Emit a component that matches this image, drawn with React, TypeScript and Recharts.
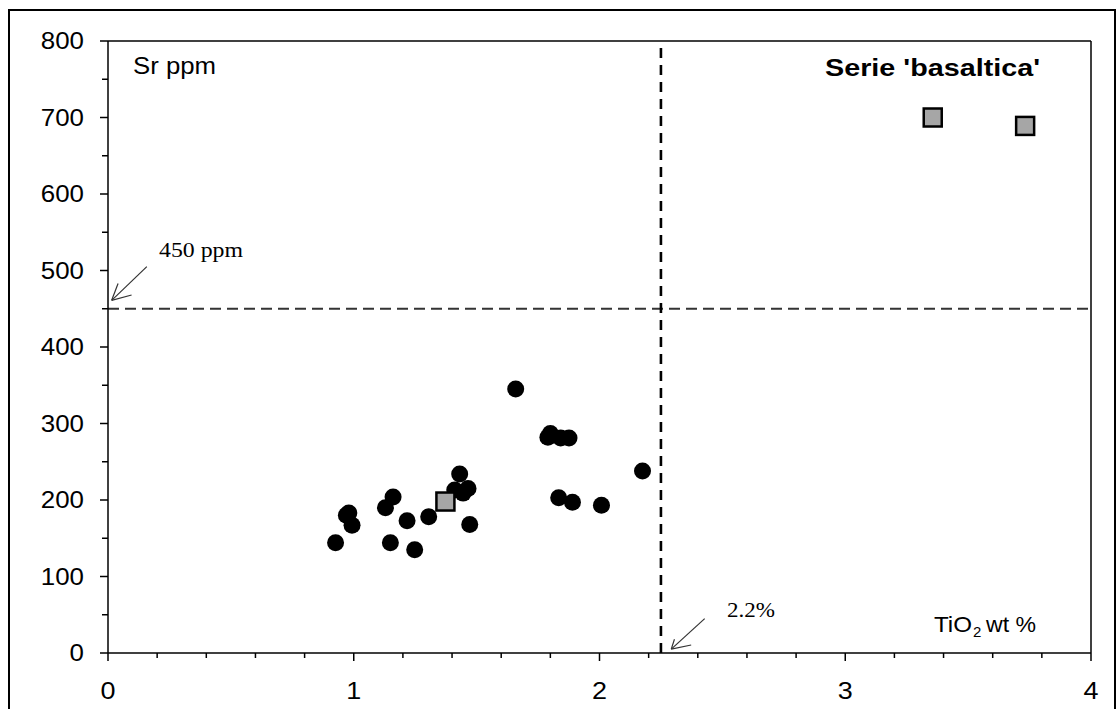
import React from 'react';
import { ScatterChart, Scatter, XAxis, YAxis, ReferenceLine } from 'recharts';

// TiO2 wt % vs Sr ppm
const circleX = [1.659, 1.79, 1.8, 1.842, 1.876, 2.175, 1.834, 1.89, 2.008, 1.431, 1.411, 1.465, 1.445, 1.472, 1.305, 1.217, 1.16, 1.129, 1.149, 1.248, 0.97, 0.98, 0.993, 0.926];
const circleY = [345, 282, 287, 281, 281, 238, 203, 197, 193, 234, 213, 215, 209, 168, 178, 173, 204, 190, 144, 135, 180, 183, 167, 144];
const squareX = [1.373, 3.356, 3.732];
const squareY = [198, 700, 689];

const xTicks = [0, 0.2, 0.4, 0.6, 0.8, 1, 1.2, 1.4, 1.6, 1.8, 2, 2.2, 2.4, 2.6, 2.8, 3, 3.2, 3.4, 3.6, 3.8, 4];
const xMajor = [0, 1, 2, 3, 4];
const yTicks = [0, 50, 100, 150, 200, 250, 300, 350, 400, 450, 500, 550, 600, 650, 700, 750, 800];
const yMajor = [0, 100, 200, 300, 400, 500, 600, 700, 800];

const tioLimit = 2.25;
const srLimit = 450;

// annotation arrows (data coordinates)
const arrow450 = [
  [{ x: 0.158, y: 505 }, { x: 0.015, y: 461 }],
  [{ x: 0.015, y: 461 }, { x: 0.041, y: 483 }],
  [{ x: 0.015, y: 461 }, { x: 0.096, y: 468 }],
];
const arrow22 = [
  [{ x: 2.428, y: 45 }, { x: 2.292, y: 5 }],
  [{ x: 2.292, y: 5 }, { x: 2.305, y: 18 }],
  [{ x: 2.292, y: 5 }, { x: 2.373, y: 10.5 }],
];

const circles = circleX.map((x, i) => ({ x, y: circleY[i] }));
const squares = squareX.map((x, i) => ({ x, y: squareY[i] }));

const SANS = 'Liberation Sans, Arial, sans-serif';
const SERIF = 'Liberation Serif, Times New Roman, serif';

const XTick = (props: any) => {
  const { x, y, payload } = props;
  const v = payload.value;
  const major = xMajor.includes(v);
  return (
    <g>
      <line x1={x} y1={y} x2={x} y2={y + (major ? 8 : 5)} stroke="#000" strokeWidth={1.5} />
      {major && (
        <text x={x} y={y + 46} textAnchor="middle" fontSize={24} fontFamily={SANS} fill="#000"
          textLength={15} lengthAdjust="spacingAndGlyphs">
          {String(v)}
        </text>
      )}
    </g>
  );
};

const YTick = (props: any) => {
  const { x, y, payload } = props;
  const v = payload.value;
  const major = yMajor.includes(v);
  const s = String(v);
  return (
    <g>
      <line x1={x - (major ? 8 : 6)} y1={y} x2={x} y2={y} stroke="#000" strokeWidth={1.5} />
      {major && (
        <text x={x - 24} y={y + 8} textAnchor="end" fontSize={24} fontFamily={SANS} fill="#000"
          textLength={14.4 * s.length} lengthAdjust="spacingAndGlyphs">
          {s}
        </text>
      )}
    </g>
  );
};

const CircleShape = (props: any) => <circle cx={props.cx} cy={props.cy} r={8.5} fill="#000" />;
const SquareShape = (props: any) => (
  <rect x={props.cx - 9} y={props.cy - 9} width={18} height={18} fill="#a6a6a6" stroke="#000" strokeWidth={2.5} />
);

export default function App() {
  return (
    <div style={{ position: 'fixed', left: 0, top: 0, width: 1120, height: 709, overflow: 'hidden', background: '#fff' }}>
      <div style={{ position: 'absolute', left: 8, top: 9, width: 1108, height: 720, border: '2px solid #000', boxSizing: 'border-box' }} />
      <div style={{ position: 'absolute', left: 0, top: 0 }}>
        <ScatterChart width={1120} height={709} margin={{ top: 41, right: 29, bottom: 16, left: 48 }}>
          <XAxis type="number" dataKey="x" domain={[0, 4]} ticks={xTicks} interval={0} allowDataOverflow
            tick={<XTick />} tickLine={false} tickSize={0} tickMargin={0} height={40}
            axisLine={{ stroke: '#000', strokeWidth: 1.5 }} />
          <YAxis type="number" dataKey="y" domain={[0, 800]} ticks={yTicks} interval={0} allowDataOverflow
            tick={<YTick />} tickLine={false} tickSize={0} tickMargin={0} width={60}
            axisLine={{ stroke: '#000', strokeWidth: 1.5 }} />
          <ReferenceLine y={800} stroke="#000" strokeWidth={1.5} />
          <ReferenceLine x={4} stroke="#000" strokeWidth={1.5} />
          <ReferenceLine y={srLimit} stroke="#333" strokeWidth={2.2} strokeDasharray="11 6" />
          <ReferenceLine x={tioLimit} stroke="#000" strokeWidth={2.6} strokeDasharray="10 7" />
          {arrow450.map((seg, i) => (
            <ReferenceLine key={'a' + i} segment={seg} stroke="#333" strokeWidth={1.2} />
          ))}
          {arrow22.map((seg, i) => (
            <ReferenceLine key={'b' + i} segment={seg} stroke="#333" strokeWidth={1.2} />
          ))}
          <Scatter data={circles} shape={CircleShape} isAnimationActive={false} />
          <Scatter data={squares} shape={SquareShape} isAnimationActive={false} />
        </ScatterChart>
      </div>
      <svg width={1120} height={709} style={{ position: 'absolute', left: 0, top: 0, pointerEvents: 'none' }}>
        <text x={133} y={74} fontSize={24} fontFamily={SANS} fill="#000" textLength={83} lengthAdjust="spacingAndGlyphs">Sr ppm</text>
        <text x={825} y={76} fontSize={24} fontWeight="bold" fontFamily={SANS} fill="#000" textLength={215} lengthAdjust="spacingAndGlyphs">Serie 'basaltica'</text>
        <text x={934} y={632} fontSize={22} fontFamily={SANS} fill="#000" textLength={38} lengthAdjust="spacingAndGlyphs">TiO</text>
        <text x={973} y={637} fontSize={15} fontFamily={SANS} fill="#000">2</text>
        <text x={986} y={632} fontSize={22} fontFamily={SANS} fill="#000" textLength={50} lengthAdjust="spacingAndGlyphs">wt %</text>
        <text x={159} y={257} fontSize={22} fontFamily={SERIF} fill="#000" textLength={84} lengthAdjust="spacingAndGlyphs">450 ppm</text>
        <text x={727} y={617} fontSize={22} fontFamily={SERIF} fill="#000" textLength={48} lengthAdjust="spacingAndGlyphs">2.2%</text>
      </svg>
    </div>
  );
}
